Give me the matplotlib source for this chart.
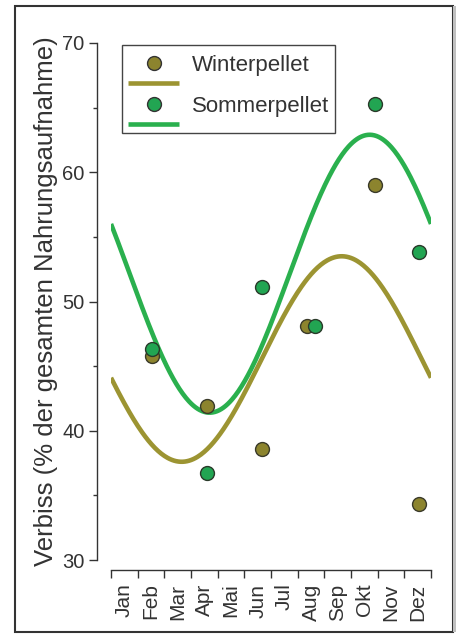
import numpy as np
import matplotlib
matplotlib.use("Agg")
import matplotlib.pyplot as plt
from matplotlib.lines import Line2D
from matplotlib.legend_handler import HandlerBase
from matplotlib.patches import Rectangle

plt.rcParams['font.family'] = ['Liberation Sans', 'DejaVu Sans']

# ---------------- data ----------------
months = ["Jan", "Feb", "Mar", "Apr", "Mai", "Jun", "Jul", "Aug", "Sep", "Okt", "Nov", "Dez"]
winter_x = [1.55, 3.6, 5.65, 7.35, 9.9, 11.55]
winter_y = [45.8, 41.9, 38.6, 48.1, 59.0, 34.3]
sommer_x = [1.55, 3.6, 5.65, 7.65, 9.9, 11.55]
sommer_y = [46.3, 36.7, 51.1, 48.1, 65.3, 53.8]
# fitted sine curves (mean, amplitude, month of peak), period 12 months
winter_fit = (45.55, 7.95, 8.65)
sommer_fit = (52.15, 10.75, 9.7)
yticks = [30, 40, 50, 60, 70]

winter_marker = "#8c842e"
winter_line = "#9c9432"
sommer_marker = "#22a552"
sommer_line = "#2ab04e"
text_col = "#333333"

fig = plt.figure(figsize=(4.61, 6.35), dpi=100)
ax = fig.add_axes([111/461, 1-560/635, 320/461, 517/635])

xx = np.linspace(0, 12, 300)
def curve(p):
    m, a, peak = p
    return m + a*np.cos(2*np.pi*(xx-peak)/12)

ax.plot(xx, curve(winter_fit), color=winter_line, lw=3.3, solid_capstyle='butt', zorder=2)
ax.plot(xx, curve(sommer_fit), color=sommer_line, lw=3.3, solid_capstyle='butt', zorder=2)
ax.plot(winter_x, winter_y, 'o', ms=10, mfc=winter_marker, mec="#3a3a2a", mew=1.0, zorder=3)
ax.plot(sommer_x, sommer_y, 'o', ms=10, mfc=sommer_marker, mec="#2a3a2a", mew=1.0, zorder=4)

ax.set_xlim(0, 12)
ax.set_ylim(30, 70)
for s in ['top', 'right']:
    ax.spines[s].set_visible(False)
ax.spines['left'].set_position(('outward', 10))
ax.spines['bottom'].set_position(('outward', 7))
for s in ['left', 'bottom']:
    ax.spines[s].set_color(text_col)
    ax.spines[s].set_linewidth(1.0)

ax.set_yticks(yticks)
ax.set_yticks([35, 45, 55, 65], minor=True)
ax.tick_params(axis='y', which='major', length=6, width=1, color=text_col,
               labelsize=14.5, labelcolor=text_col, pad=3)
ax.tick_params(axis='y', which='minor', length=3, width=1, color=text_col)

ax.set_xticks(np.arange(13))
ax.set_xticklabels([])
ax.set_xticks(np.arange(12) + 0.5, minor=True)
ax.set_xticklabels(months, minor=True, rotation=90)
ax.tick_params(axis='x', which='major', length=6, width=1, color=text_col)
ax.tick_params(axis='x', which='minor', length=0, labelsize=15, labelcolor=text_col, pad=10)

ax.set_ylabel("Verbiss (% der gesamten Nahrungsaufnahme)", fontsize=18.5, color=text_col, labelpad=3)


class MarkerOverLine(HandlerBase):
    def __init__(self, mcol, lcol, **kw):
        super().__init__(**kw)
        self.mcol = mcol
        self.lcol = lcol

    def create_artists(self, legend, orig_handle, xdescent, ydescent, width, height, fontsize, trans):
        cy = height/2 - ydescent
        m = Line2D([width/2 - xdescent], [cy], marker='o', ms=10, mfc=self.mcol,
                   mec="#333333", mew=1.0, ls='none', transform=trans)
        l = Line2D([-xdescent, width - xdescent], [cy - 14, cy - 14], color=self.lcol,
                   lw=3.3, solid_capstyle='butt', transform=trans)
        return [m, l]

# legend frame (box drawn separately so its height matches the reference)
ax.add_patch(Rectangle((0.034, 0.826), 0.666, 0.170, transform=ax.transAxes,
                       fill=False, edgecolor="#444444", lw=1.0, zorder=5, clip_on=False))

h1 = Line2D([], [])
h2 = Line2D([], [])
leg = ax.legend([h1, h2], ["Winterpellet", "Sommerpellet"],
                handler_map={h1: MarkerOverLine(winter_marker, winter_line),
                             h2: MarkerOverLine(sommer_marker, sommer_line)},
                loc='upper left', bbox_to_anchor=(0.019, 0.998), borderaxespad=0,
                fontsize=16, frameon=False, handlelength=2.3,
                handletextpad=0.55, labelspacing=0.9, borderpad=0.5)
for t in leg.get_texts():
    t.set_color(text_col)

# scanned page border
fig.patches.append(Rectangle((15/461, 1-632/635), (453-15)/461, (632-6)/635,
                             transform=fig.transFigure, fill=False,
                             edgecolor="#333333", lw=1.5))
fig.patches.append(Rectangle((453/461, 1-632/635), 3/461, (632-6)/635,
                             transform=fig.transFigure, facecolor="#c0c0c0",
                             edgecolor="none"))

fig.savefig("out.png", dpi=100)
